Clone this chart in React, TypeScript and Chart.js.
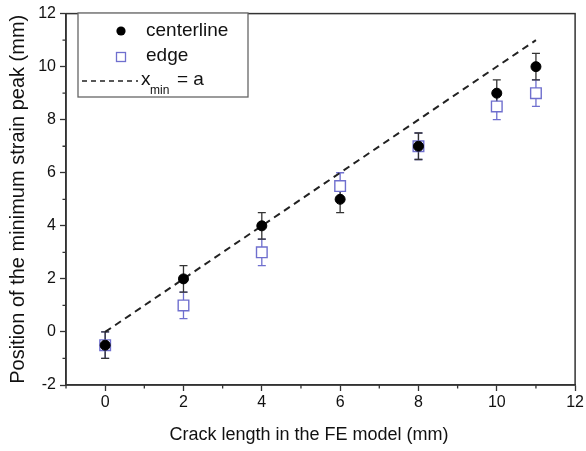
import React, { useEffect, useRef } from "react";
import { Chart, registerables } from "chart.js";

Chart.register(...registerables);

const crackLength = [0, 2, 4, 6, 8, 10, 11];
const centerline = [-0.5, 2, 4, 5, 7, 9, 10];
const centerlineErr = [0.5, 0.5, 0.5, 0.5, 0.5, 0.5, 0.5];
const edge = [-0.5, 1, 3, 5.5, 7, 8.5, 9];
const edgeErr = [0.5, 0.5, 0.5, 0.5, 0.5, 0.5, 0.5];
const refLineX = [0, 11];
const refLineY = [0, 11];
const xMajorTicks = [0, 2, 4, 6, 8, 10, 12];
const xMinorTicks = [-1, 1, 3, 5, 7, 9, 11];
const yMinorTicks = [-1, 1, 3, 5, 7, 9, 11];
const xTitle = "Crack length in the FE model (mm)";
const yTitle = "Position of the minimum strain peak (mm)";

const EDGE_COLOR = "#6f6fce";
const CENTER_COLOR = "#000000";
const FONT = "Liberation Sans, Arial, sans-serif";

const errorBarPlugin = {
  id: "errorBars",
  beforeDatasetsDraw(chart: any) {
    const { ctx, scales } = chart;
    const xs = scales.x;
    const ys = scales.y;
    const sets = [
      { vals: edge, errs: edgeErr, color: EDGE_COLOR },
      { vals: centerline, errs: centerlineErr, color: "#333333" },
    ];
    ctx.save();
    ctx.lineWidth = 1.3;
    sets.forEach((s) => {
      ctx.strokeStyle = s.color;
      s.vals.forEach((v, i) => {
        const px = xs.getPixelForValue(crackLength[i]);
        const top = ys.getPixelForValue(v + s.errs[i]);
        const bot = ys.getPixelForValue(v - s.errs[i]);
        ctx.beginPath();
        ctx.moveTo(px, top);
        ctx.lineTo(px, bot);
        ctx.moveTo(px - 4, top);
        ctx.lineTo(px + 4, top);
        ctx.moveTo(px - 4, bot);
        ctx.lineTo(px + 4, bot);
        ctx.stroke();
      });
    });
    ctx.restore();
  },
};

const framePlugin = {
  id: "frame",
  afterDraw(chart: any) {
    const { ctx, chartArea, scales } = chart;
    const { left, right, top, bottom } = chartArea;
    ctx.save();
    ctx.strokeStyle = "#333333";
    ctx.lineWidth = 1.5;
    ctx.strokeRect(left, top, right - left, bottom - top);
    // minor ticks
    ctx.lineWidth = 1.3;
    ctx.beginPath();
    xMinorTicks.forEach((v) => {
      const px = scales.x.getPixelForValue(v);
      ctx.moveTo(px, bottom);
      ctx.lineTo(px, bottom + 3.5);
    });
    yMinorTicks.forEach((v) => {
      const py = scales.y.getPixelForValue(v);
      ctx.moveTo(left, py);
      ctx.lineTo(left - 3.5, py);
    });
    ctx.stroke();

    // x axis title
    ctx.fillStyle = "#111111";
    ctx.textAlign = "center";
    ctx.textBaseline = "middle";
    ctx.font = `18px ${FONT}`;
    ctx.fillText(xTitle, 309, 435);

    // legend
    const bx = 78, by = 13, bw = 170, bh = 84;
    ctx.fillStyle = "#ffffff";
    ctx.fillRect(bx, by, bw, bh);
    ctx.strokeStyle = "#666666";
    ctx.lineWidth = 1.3;
    ctx.strokeRect(bx, by, bw, bh);

    ctx.fillStyle = CENTER_COLOR;
    ctx.beginPath();
    ctx.arc(121, 31, 4.6, 0, Math.PI * 2);
    ctx.fill();

    ctx.strokeStyle = EDGE_COLOR;
    ctx.lineWidth = 1.3;
    ctx.strokeRect(116.5, 52.5, 9, 9);

    ctx.strokeStyle = "#222222";
    ctx.lineWidth = 1.6;
    ctx.setLineDash([5, 4]);
    ctx.beginPath();
    ctx.moveTo(82, 81);
    ctx.lineTo(138, 81);
    ctx.stroke();
    ctx.setLineDash([]);

    ctx.fillStyle = "#111111";
    ctx.textBaseline = "middle";
    ctx.textAlign = "left";
    ctx.font = `19px ${FONT}`;
    ctx.fillText("centerline", 146, 31);
    ctx.fillText("edge", 146, 56);
    ctx.fillText("x", 141, 80);
    ctx.font = `12px ${FONT}`;
    ctx.fillText("min", 150, 91);
    ctx.font = `19px ${FONT}`;
    ctx.fillText("= a", 177, 80);
    ctx.restore();
  },
};

export default function App() {
  const ref = useRef<HTMLCanvasElement>(null);
  useEffect(() => {
    if (!ref.current) return;
    const chart = new Chart(ref.current, {
      type: "scatter",
      data: {
        datasets: [
          {
            label: "centerline",
            data: crackLength.map((x, i) => ({ x, y: centerline[i] })),
            pointStyle: "circle",
            pointRadius: 5,
            backgroundColor: CENTER_COLOR,
            borderColor: CENTER_COLOR,
            borderWidth: 1,
          },
          {
            label: "edge",
            data: crackLength.map((x, i) => ({ x, y: edge[i] })),
            pointStyle: "rect",
            pointRadius: 7.5,
            backgroundColor: "#ffffff",
            borderColor: EDGE_COLOR,
            borderWidth: 1.4,
          },
          {
            type: "line",
            label: "x_min = a",
            data: refLineX.map((x, i) => ({ x, y: refLineY[i] })),
            borderColor: "#222222",
            borderWidth: 2,
            borderDash: [7, 5],
            pointRadius: 0,
            fill: false,
          } as any,
        ],
      },
      options: {
        responsive: false,
        animation: false,
        layout: { padding: { left: 0, top: 8, right: 7, bottom: 0 } },
        plugins: { legend: { display: false }, tooltip: { enabled: false } },
        scales: {
          x: {
            type: "linear",
            min: -1,
            max: 12,
            afterFit(scale: any) {
              scale.height = 66;
            },
            afterBuildTicks(scale: any) {
              scale.ticks = xMajorTicks.map((v) => ({ value: v }));
            },
            ticks: {
              color: "#111111",
              font: { family: FONT, size: 16 },
              padding: 2,
              maxRotation: 0,
            },
            grid: {
              drawOnChartArea: false,
              tickLength: 6,
              tickWidth: 1.3,
              color: "#333333",
            },
            border: { display: true, color: "#333333", width: 1.5 },
            title: { display: false, text: xTitle },
          },
          y: {
            type: "linear",
            min: -2,
            max: 12,
            afterFit(scale: any) {
              scale.width = 66;
            },
            ticks: {
              stepSize: 2,
              color: "#111111",
              font: { family: FONT, size: 16 },
              padding: 4,
            },
            grid: {
              drawOnChartArea: false,
              tickLength: 6,
              tickWidth: 1.3,
              color: "#333333",
            },
            border: { display: true, color: "#333333", width: 1.5 },
            title: {
              display: true,
              text: yTitle,
              color: "#111111",
              font: { family: FONT, size: 20 },
              padding: { top: 6, bottom: 0 },
            },
          },
        },
      },
      plugins: [errorBarPlugin, framePlugin],
    });
    return () => chart.destroy();
  }, []);
  return (
    <div style={{ position: "fixed", left: 0, top: 0, width: 586, height: 451, background: "#fff" }}>
      <canvas ref={ref} width={586} height={451} />
    </div>
  );
}
